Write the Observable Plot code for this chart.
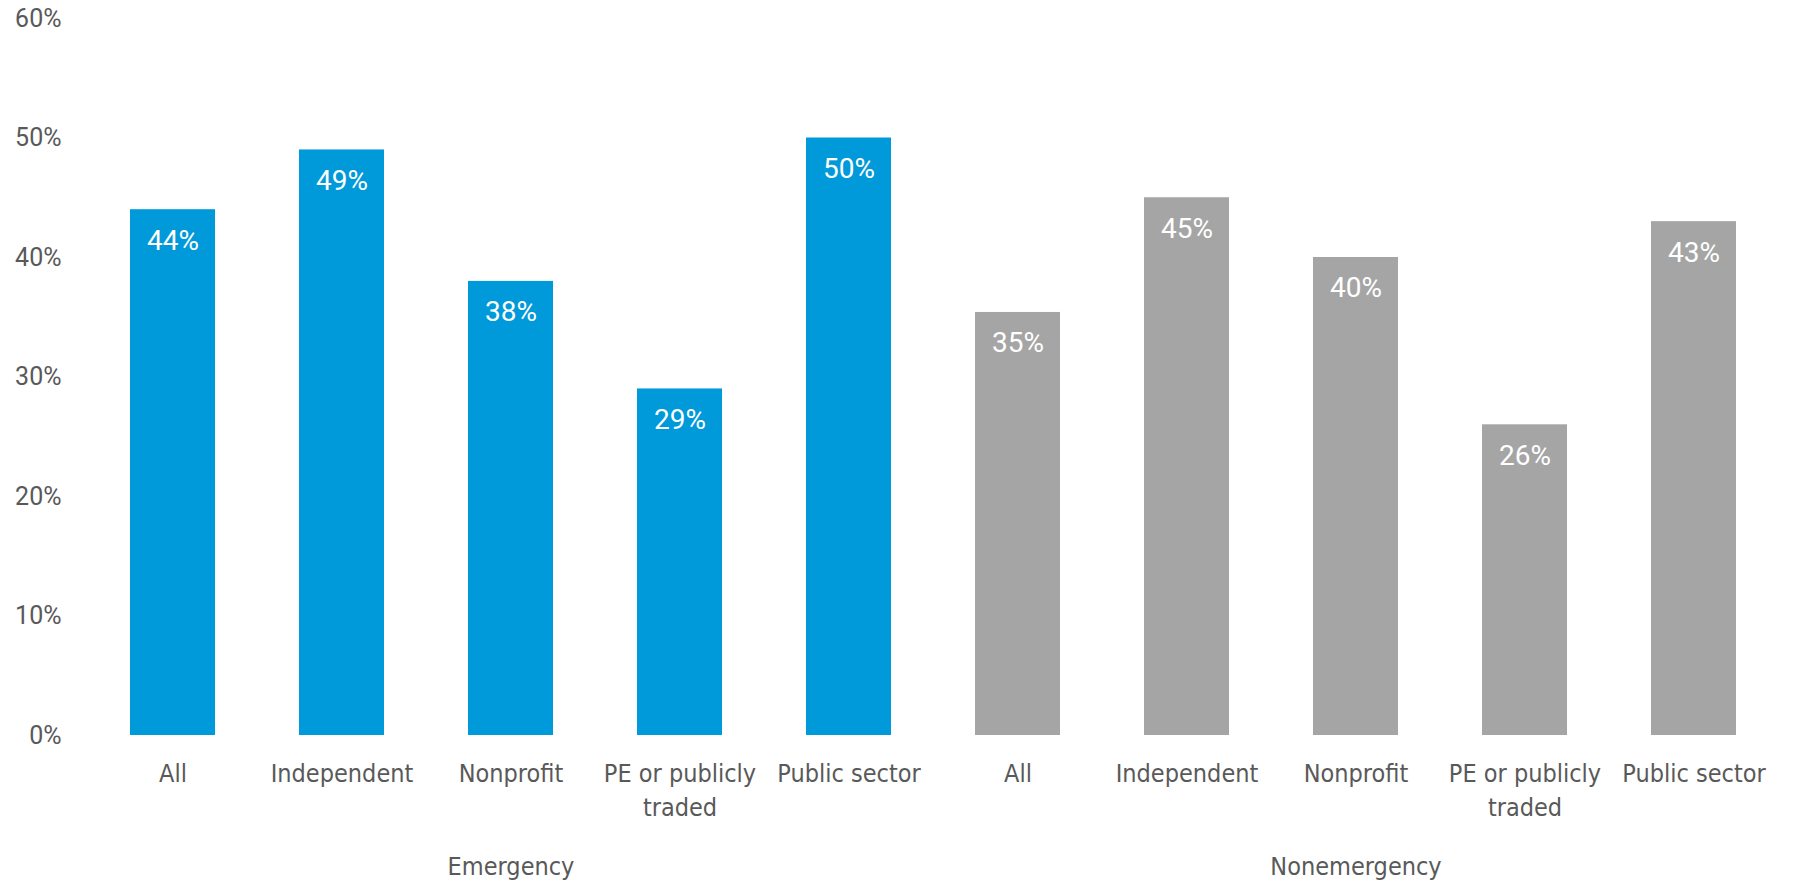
<!DOCTYPE html>
<html><head><meta charset="utf-8">
<script src="https://cdn.jsdelivr.net/npm/d3@7"></script>
<script src="https://cdn.jsdelivr.net/npm/@observablehq/plot@0.6"></script>
<style>
html,body{margin:0;padding:0;background:#fff;}
g[aria-label="x-axis tick label"], g[aria-label="group label"] { font-stretch: condensed; }
</style></head><body><div id="chart"></div>
<script>
const groups = ["Emergency", "Nonemergency"];
const categories = ["All", "Independent", "Nonprofit", "PE or publicly\ntraded", "Public sector"];
const emergencyValues = [44, 49, 38, 29, 50];
const nonemergencyValues = [35.4, 45, 40, 26, 43];
const yTicks = [0, 10, 20, 30, 40, 50, 60];
const colors = ["#0099DA", "#A5A5A5"];

const seriesValues = [emergencyValues, nonemergencyValues];
const rows = groups.flatMap((g, gi) => categories.map((c, ci) => ({
  group: g, category: c, key: g + "|" + c, value: seriesValues[gi][ci]
})));
const groupLabels = groups.map(g => ({group: g, key: g + "|" + categories[2]}));

const chart = Plot.plot({
  width: 1793, height: 882,
  marginLeft: 85, marginRight: 13, marginTop: 18, marginBottom: 147,
  style: {background: "#fff", color: "#595959"},
  x: {domain: rows.map(d => d.key), paddingInner: 0.5, paddingOuter: 0.25, axis: null},
  y: {domain: [0, 60], axis: null},
  color: {domain: groups, range: colors},
  marks: [
    Plot.axisY({ticks: yTicks, tickSize: 0, tickPadding: 24, tickFormat: d => d + "%",
      fontSize: 25, fontFamily: "Roboto", color: "#595959", label: null}),
    Plot.axisX({tickSize: 0, tickPadding: 22, tickFormat: d => d.split("|")[1],
      fontSize: 25, fontFamily: "DejaVu Sans Condensed, DejaVu Sans", lineHeight: 1.36,
      color: "#595959", label: null}),
    Plot.barY(rows, {x: "key", y: "value", fill: "group"}),
    Plot.text(rows, {x: "key", y: "value", text: d => Math.round(d.value) + "%", dy: 31,
      fill: "white", fontSize: 28, fontFamily: "Roboto"}),
    Plot.text(groupLabels, {x: "key", y: () => 0, dy: 131, text: "group", fill: "#595959",
      fontSize: 25, fontFamily: "DejaVu Sans Condensed, DejaVu Sans", ariaLabel: "group label"})
  ]
});
document.getElementById("chart").appendChild(chart);
</script>
</body></html>
